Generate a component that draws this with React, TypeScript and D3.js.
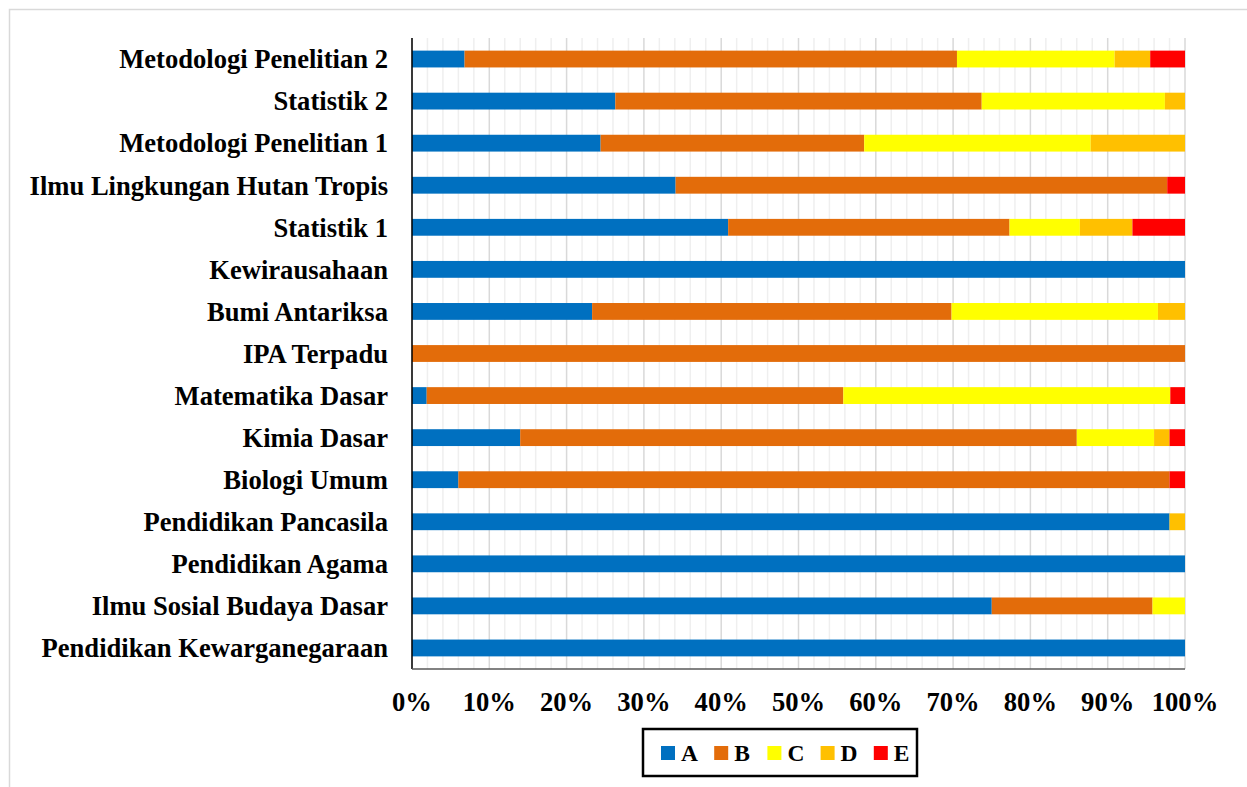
import React from "react";
import * as d3 from "d3";

const categories = [
  "Metodologi Penelitian 2",
  "Statistik 2",
  "Metodologi Penelitian 1",
  "Ilmu Lingkungan Hutan Tropis",
  "Statistik 1",
  "Kewirausahaan",
  "Bumi Antariksa",
  "IPA Terpadu",
  "Matematika Dasar",
  "Kimia Dasar",
  "Biologi Umum",
  "Pendidikan Pancasila",
  "Pendidikan Agama",
  "Ilmu Sosial Budaya Dasar",
  "Pendidikan Kewarganegaraan",
];

const seriesNames = ["A", "B", "C", "D", "E"];
const seriesColors = ["#0070C0", "#E36C0A", "#FFFF00", "#FFC000", "#FF0000"];

const valuesA = [6.8, 26.3, 24.4, 34.1, 40.9, 100, 23.3, 0, 1.9, 14, 6, 98, 100, 75, 100];
const valuesB = [63.7, 47.4, 34.1, 63.6, 36.4, 0, 46.5, 100, 53.9, 72, 92, 0, 0, 20.8, 0];
const valuesC = [20.4, 23.7, 29.3, 0, 9.1, 0, 26.7, 0, 42.3, 10, 0, 0, 0, 4.2, 0];
const valuesD = [4.6, 2.6, 12.2, 0, 6.8, 0, 3.5, 0, 0, 2, 0, 2, 0, 0, 0];
const valuesE = [4.5, 0, 0, 2.3, 6.8, 0, 0, 0, 1.9, 2, 2, 0, 0, 0, 0];

const tickValues = [0, 10, 20, 30, 40, 50, 60, 70, 80, 90, 100];
const minorTicks = d3.range(0, 101, 2);

const FONT = "'Liberation Serif', 'Times New Roman', serif";

export default function App() {
  const W = 1247;
  const H = 787;
  const left = 412;
  const right = 1185;
  const top = 38;
  const bottom = 669;

  const x = d3.scaleLinear().domain([0, 100]).range([left, right]);
  const y = d3
    .scaleBand<string>()
    .domain(categories)
    .range([top, bottom])
    .paddingInner(0.6)
    .paddingOuter(0.3);

  const allSeries = [valuesA, valuesB, valuesC, valuesD, valuesE];
  const rows = categories.map((c, i) => {
    const o: any = { cat: c };
    seriesNames.forEach((s, k) => (o[s] = allSeries[k][i]));
    return o;
  });
  const stacked = d3.stack<any>().keys(seriesNames)(rows);

  const legendX = 643;
  const legendY = 729;
  const legendW = 274;
  const legendH = 47;

  return (
    <svg
      width={W}
      height={H}
      style={{ position: "absolute", left: 0, top: 0, background: "#fff" }}
    >
      <rect x={0} y={0} width={W} height={H} fill="#fff" />
      <rect
        x={9.5}
        y={9.5}
        width={W + 50}
        height={H + 50}
        fill="none"
        stroke="#d9d9d9"
        strokeWidth={1.5}
      />
      {minorTicks
        .filter((t) => t % 10 !== 0)
        .map((t) => (
          <line
            key={"m" + t}
            x1={x(t)}
            x2={x(t)}
            y1={top}
            y2={bottom}
            stroke="#efefef"
            strokeWidth={1.5}
          />
        ))}
      {tickValues.map((t) => (
        <line
          key={"g" + t}
          x1={x(t)}
          x2={x(t)}
          y1={top}
          y2={bottom}
          stroke="#d9d9d9"
          strokeWidth={1.5}
        />
      ))}
      {stacked.map((layer, k) => (
        <g key={layer.key} fill={seriesColors[k]}>
          {layer.map((d, i) =>
            d[1] - d[0] > 0 ? (
              <rect
                key={i}
                x={x(d[0])}
                y={y(categories[i])}
                width={x(d[1]) - x(d[0])}
                height={y.bandwidth()}
              />
            ) : null
          )}
        </g>
      ))}
      <line x1={left} x2={left} y1={top} y2={bottom} stroke="#000" strokeWidth={1.5} />
      <line x1={left} x2={right} y1={bottom} y2={bottom} stroke="#595959" strokeWidth={1.5} />
      {categories.map((c) => (
        <text
          key={c}
          x={388}
          y={y(c)! + y.bandwidth() / 2}
          dy="0.35em"
          textAnchor="end"
          fontFamily={FONT}
          fontWeight="bold"
          fontSize={26.6}
          fill="#000"
        >
          {c}
        </text>
      ))}
      {tickValues.map((t) => (
        <text
          key={"t" + t}
          x={x(t)}
          y={711}
          textAnchor="middle"
          fontFamily={FONT}
          fontWeight="bold"
          fontSize={26.6}
          fill="#000"
        >
          {t + "%"}
        </text>
      ))}
      <rect
        x={legendX}
        y={legendY}
        width={legendW}
        height={legendH}
        fill="#fff"
        stroke="#000"
        strokeWidth={2.5}
      />
      {seriesNames.map((s, k) => (
        <g key={"l" + s} transform={`translate(${661 + k * 53.2},0)`}>
          <rect x={0} y={746} width={14} height={14} fill={seriesColors[k]} />
          <text
            x={20}
            y={761}
            fontFamily={FONT}
            fontWeight="bold"
            fontSize={23.5}
            fill="#000"
          >
            {s}
          </text>
        </g>
      ))}
    </svg>
  );
}
